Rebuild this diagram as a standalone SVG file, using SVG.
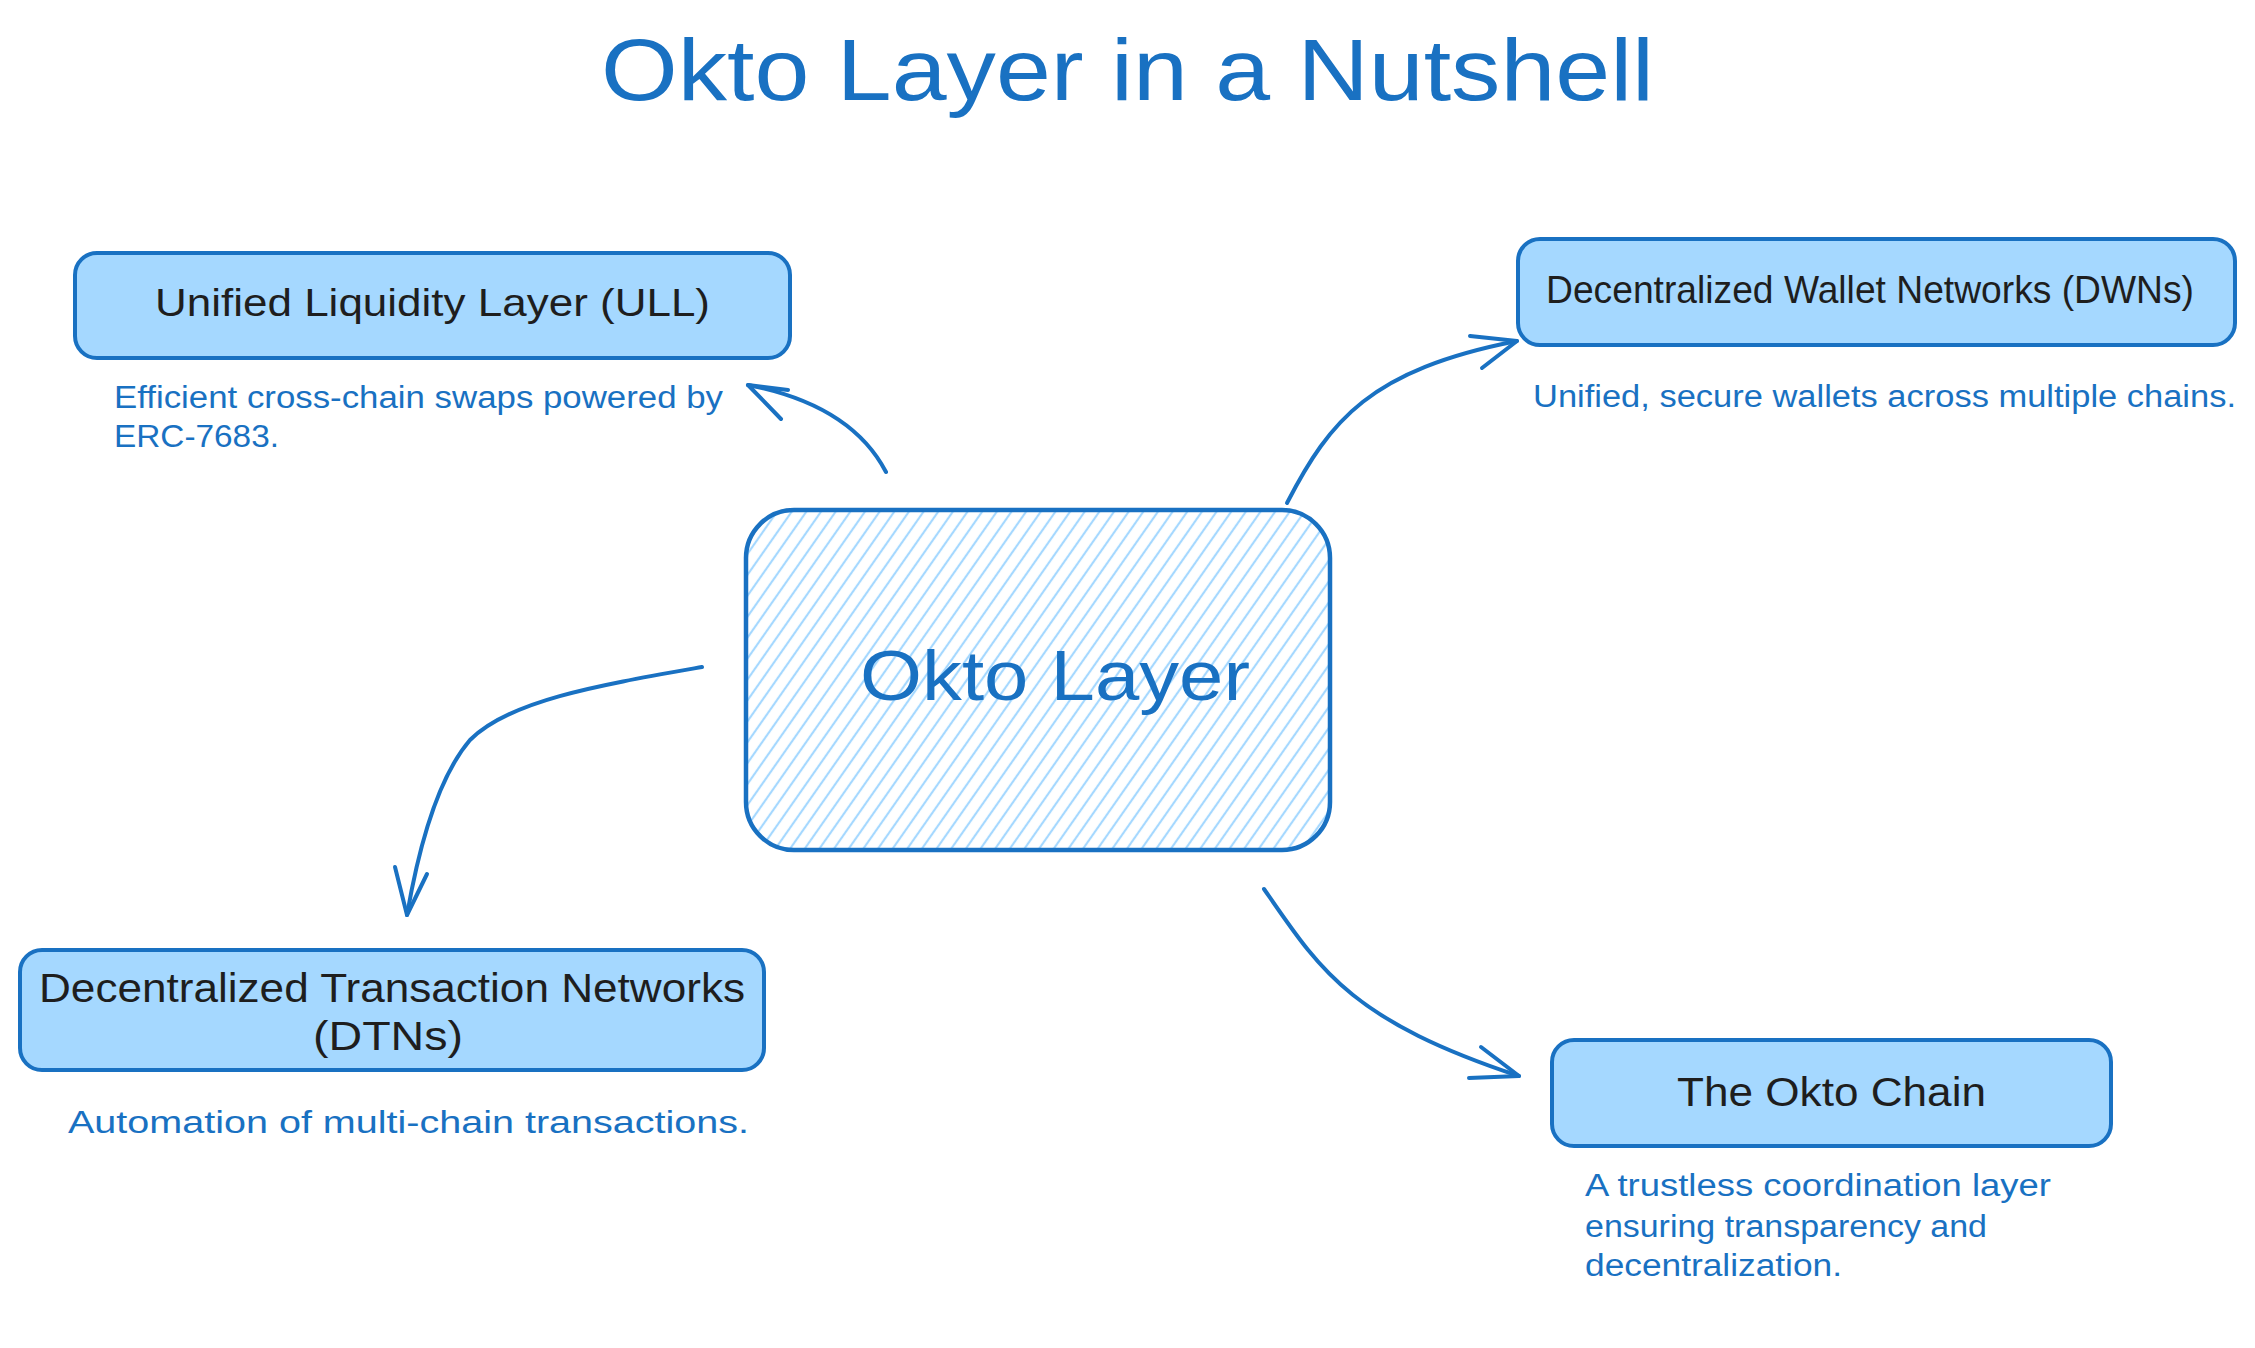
<svg xmlns="http://www.w3.org/2000/svg" width="2255" height="1348" viewBox="0 0 2255 1348">
<style>
  .box { fill: #a5d8ff; stroke: #1971c2; stroke-width: 4; }
  .node-text { font-family: "Liberation Sans", Arial, sans-serif; fill: #1e1e1e; }
  .desc { font-family: "Liberation Sans", Arial, sans-serif; fill: #1971c2; font-size: 31px; }
  .conn { fill: none; stroke: #1971c2; stroke-width: 4; stroke-linecap: round; stroke-linejoin: round; }
</style>
<defs>
  <pattern id="hatch" patternUnits="userSpaceOnUse" width="12" height="12" patternTransform="rotate(35)">
    <line x1="6" y1="0" x2="6" y2="12" stroke="#a5d8ff" stroke-width="2.2"/>
  </pattern>
</defs>
<rect width="2255" height="1348" fill="#ffffff"/>

<text id="title" x="601" y="100" font-family="Liberation Sans, Arial, sans-serif" font-size="88" fill="#1971c2" textLength="1053" lengthAdjust="spacingAndGlyphs">Okto Layer in a Nutshell</text>

<g id="connectors">
  <path class="conn" d="M886 472 Q851 405 748 385"/>
  <path class="conn" d="M781 419 L748 385 L788 390"/>
  <path class="conn" d="M1287 503 C1330 420 1370 370 1517 341"/>
  <path class="conn" d="M1470 336 L1517 341 L1482 368"/>
  <path class="conn" d="M702 667 C600 685 510 700 470 740 C440 775 420 840 407 915"/>
  <path class="conn" d="M395 867 L407 915 L427 874"/>
  <path class="conn" d="M1264 889 C1320 970 1350 1020 1519 1076"/>
  <path class="conn" d="M1481 1047 L1519 1076 L1469 1078"/>
</g>

<g id="node-okto-layer">
  <rect x="746" y="510" width="584" height="340" rx="48" fill="url(#hatch)" stroke="#1971c2" stroke-width="4.5"/>
  <text class="node-text" x="860" y="700" font-size="70" fill="#1971c2" style="fill:#1971c2" textLength="390" lengthAdjust="spacingAndGlyphs">Okto Layer</text>
</g>

<g id="node-ull">
  <rect class="box" x="75" y="253" width="715" height="105" rx="22"/>
  <text class="node-text" x="155" y="316" font-size="39" textLength="555" lengthAdjust="spacingAndGlyphs">Unified Liquidity Layer (ULL)</text>
  <text class="desc" x="114" y="408" textLength="609" lengthAdjust="spacingAndGlyphs">Efficient cross-chain swaps powered by</text>
  <text class="desc" x="114" y="447" textLength="165" lengthAdjust="spacingAndGlyphs">ERC-7683.</text>
</g>

<g id="node-dwn">
  <rect class="box" x="1518" y="239" width="717" height="106" rx="22"/>
  <text class="node-text" x="1546" y="303" font-size="39" textLength="648" lengthAdjust="spacingAndGlyphs">Decentralized Wallet Networks (DWNs)</text>
  <text class="desc" x="1533" y="407" textLength="703" lengthAdjust="spacingAndGlyphs">Unified, secure wallets across multiple chains.</text>
</g>

<g id="node-dtn">
  <rect class="box" x="20" y="950" width="744" height="120" rx="22"/>
  <text class="node-text" x="39" y="1002" font-size="41" textLength="706" lengthAdjust="spacingAndGlyphs">Decentralized Transaction Networks</text>
  <text class="node-text" x="313" y="1050" font-size="41" textLength="150" lengthAdjust="spacingAndGlyphs">(DTNs)</text>
  <text class="desc" x="68" y="1133" textLength="681" lengthAdjust="spacingAndGlyphs">Automation of multi-chain transactions.</text>
</g>

<g id="node-okto-chain">
  <rect class="box" x="1552" y="1040" width="559" height="106" rx="22"/>
  <text class="node-text" x="1677" y="1106" font-size="40" textLength="309" lengthAdjust="spacingAndGlyphs">The Okto Chain</text>
  <text class="desc" x="1585" y="1196" textLength="466" lengthAdjust="spacingAndGlyphs">A trustless coordination layer</text>
  <text class="desc" x="1585" y="1237" textLength="402" lengthAdjust="spacingAndGlyphs">ensuring transparency and</text>
  <text class="desc" x="1585" y="1276" textLength="257" lengthAdjust="spacingAndGlyphs">decentralization.</text>
</g>
</svg>
